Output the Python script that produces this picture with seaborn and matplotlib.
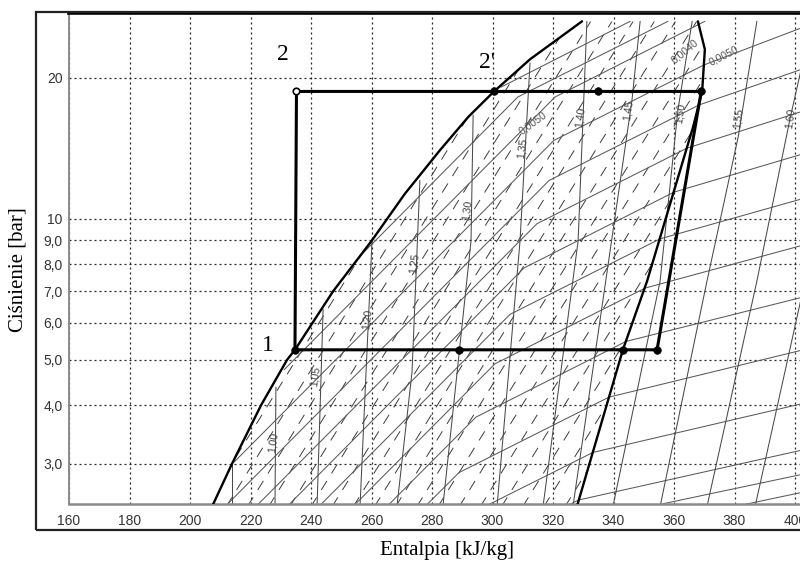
import numpy as np
import matplotlib
matplotlib.use("Agg")
import matplotlib.pyplot as plt
from matplotlib.patches import Polygon, Rectangle
from matplotlib.ticker import NullLocator
from matplotlib import font_manager
import seaborn as sns

# ---- saturation curves (h in kJ/kg, p in bar) ----
liquid_h = [207.3, 213.9, 223.5, 232.1, 234.7, 247.3, 260.2, 271.0, 282.6, 292.0, 300.5, 312.4, 329.6]
liquid_p = [2.43, 3.0, 4.0, 5.0, 5.25, 7.0, 9.0, 11.3, 14.0, 16.5, 18.7, 21.9, 26.4]
vapour_h = [327.9, 343.1, 351.1, 366.3, 369.3, 370.2, 367.9]
vapour_p = [2.43, 5.25, 7.36, 15.7, 18.7, 23.0, 26.4]

# ---- refrigeration cycle ----
cycle_h = [234.7, 235.2, 369.0, 354.4, 234.7]
cycle_p = [5.25, 18.7, 18.7, 5.25, 5.25]
state_h = [234.7, 300.5, 334.9, 369.0, 289.0, 343.1, 354.4]
state_p = [5.25, 18.7, 18.7, 18.7, 5.25, 5.25, 5.25]
open_state_h = [235.2]
open_state_p = [18.7]
state_names = ["1", "2", "2'"]
state_name_h = [225.8, 230.7, 298.2]
state_name_p = [5.35, 22.4, 21.6]

# ---- isentropes, s in kJ/(kg K) ----
isentrope_h = [
    [213.9, 213.9],
    [228.4, 228.1],
    [244.0, 242.0],
    [260.2, 258.2, 256.2],
    [276.0, 273.4, 268.4],
    [293.6, 292.9, 283.6],
    [312.4, 309.1, 301.5],
    [331.2, 328.3, 316.7],
    [348.8, 346.1, 326.6],
    [366.0, 361.3, 355.4, 339.8],
    [387.4, 381.2, 370.9, 355.4],
    [405.6, 398.4, 387.4, 370.9],
    [423.1, 414.9, 403.3, 386.8],
]
isentrope_p = [
    [3.0, 2.43],
    [4.37, 2.43],
    [6.40, 2.43],
    [9.06, 4.71, 2.43],
    [12.07, 4.71, 2.43],
    [16.65, 8.97, 2.43],
    [21.5, 8.97, 2.43],
    [26.4, 8.97, 2.43],
    [26.4, 17.9, 2.43],
    [26.4, 17.07, 7.36, 2.43],
    [26.4, 14.94, 7.36, 2.43],
    [26.4, 16.41, 7.36, 2.43],
    [26.4, 16.41, 7.36, 2.43],
]
isentrope_labels = ["1,00", "1,05", "1,20", "1,25", "1,30", "1,35", "1,40", "1,45", "1,50", "1,55", "1,60"]
isentrope_label_h = [227.6, 241.5, 258.6, 274.2, 291.7, 309.8, 328.9, 344.8, 362.0, 381.2, 398.4]
isentrope_label_p = [3.33, 4.60, 6.10, 8.04, 10.4, 14.15, 16.5, 17.07, 16.8, 16.4, 16.4]

# ---- isochores, v in m3/kg ----
isochore_h = [
    [302.8, 345.5],
    [256.9, 308.4, 358.0],
    [231.1, 320.7, 370.2],
    [214.5, 320.3, 369.9, 401.7],
    [211.6, 318.7, 368.3, 401.7],
    [221.8, 314.7, 364.3, 401.7],
    [232.1, 310.4, 360.0, 401.7],
    [242.6, 305.8, 355.4, 401.7],
    [253.9, 300.8, 350.4, 401.7],
    [265.1, 294.5, 344.1, 401.7],
    [277.7, 288.9, 338.5, 401.7],
    [297.5, 333.2, 401.7],
    [324.0, 328.6, 401.7],
    [352.1, 401.7],
    [380.2, 401.7],
]
isochore_p = [
    [19.1, 26.4],
    [8.41, 18.2, 26.4],
    [4.76, 18.2, 26.4],
    [3.02, 14.7, 21.3, 25.5],
    [2.43, 12.07, 17.5, 20.8],
    [2.43, 9.76, 14.15, 16.9],
    [2.43, 7.85, 11.4, 13.7],
    [2.43, 6.25, 9.06, 11.0],
    [2.43, 4.90, 7.11, 8.75],
    [2.43, 3.77, 5.47, 6.78],
    [2.43, 2.87, 4.16, 5.23],
    [2.43, 3.17, 4.02],
    [2.43, 2.51, 3.20],
    [2.43, 2.84],
    [2.43, 2.60],
]
isochore_labels = ["0,0050", "0,0040", "0,0050"]
isochore_label_h = [313.4, 363.6, 376.4]
isochore_label_p = [16.0, 22.75, 22.3]
isochore_label_rot = [36, 40, 27]

# ---- dashed lines inside the wet-vapour region (bottom / top enthalpy) ----
wet_line_h_bottom = [198, 205, 212, 219, 226, 233, 240, 247, 254, 261, 268, 275, 282, 289, 296, 303, 310,
                     317, 324]
wet_line_h_top = [297.5, 304.5, 311.5, 318.5, 325.5, 332.5, 339.5, 346.5, 353.5, 360.5, 367.5, 374.5,
                  381.5, 388.5, 395.5, 402.5, 409.5, 416.5, 423.5]
wet_line_p = [2.43, 26.4]

# ---- axes ticks ----
h_ticks = [160, 180, 200, 220, 240, 260, 280, 300, 320, 340, 360, 380, 400]
p_ticks = [3, 4, 5, 6, 7, 8, 9, 10, 20]
p_tick_labels = ["3,0", "4,0", "5,0", "6,0", "7,0", "8,0", "9,0", "10", "20"]


def pick_font(candidates, default):
    installed = {f.name for f in font_manager.fontManager.ttflist}
    for name in candidates:
        if name in installed:
            return name
    return default


sns.set_theme(style="white")
sans = pick_font(["Liberation Sans Narrow", "Liberation Sans", "Arial"], "DejaVu Sans")
serif = pick_font(["Liberation Serif", "Times New Roman"], "DejaVu Serif")
plt.rcParams["font.family"] = [sans, "DejaVu Sans"]
narrow = sans == "Liberation Sans Narrow"
tick_size = 12 if narrow else 10
small_size = 9 if narrow else 7.6

W, H = 800, 564
fig = plt.figure(figsize=(W / 100, H / 100), dpi=100)
fig.patch.set_facecolor("white")
ax = fig.add_axes([69 / W, 60 / H, 731 / W, 491 / H])
ax.set_yscale("log")
ax.set_xlim(160, 401.65)
ax.set_ylim(2.46, 27.5)

# grid
ax.set_xticks(h_ticks)
ax.set_xticklabels([str(t) for t in h_ticks])
ax.set_yticks(p_ticks)
ax.set_yticklabels(p_tick_labels)
ax.yaxis.set_minor_locator(NullLocator())
ax.grid(True, which="major", color="#262626", lw=0.9, linestyle=(0, (1.6, 2.4)), zorder=0)
ax.set_axisbelow(True)
ax.tick_params(axis="both", length=0, labelsize=tick_size, labelcolor="#333333")
ax.tick_params(axis="x", pad=7)
ax.tick_params(axis="y", pad=4.5)

ax.spines["right"].set_visible(False)
ax.spines["left"].set_color("#8a8a8a")
ax.spines["left"].set_linewidth(1.4)
ax.spines["bottom"].set_color("#8a8a8a")
ax.spines["bottom"].set_linewidth(1.8)
ax.spines["top"].set_color("black")
ax.spines["top"].set_linewidth(2.6)

# dashed lines, clipped to the wet-vapour dome
dome = Polygon(np.column_stack([np.r_[liquid_h, vapour_h[::-1]], np.r_[liquid_p, vapour_p[::-1]]]),
               closed=True, facecolor="none", edgecolor="none", transform=ax.transData)
ax.add_patch(dome)
for hb, ht in zip(wet_line_h_bottom, wet_line_h_top):
    ln, = ax.plot([hb, ht], wet_line_p, color="#3c3c3c", lw=0.7, dashes=(11, 9), zorder=1)
    ln.set_clip_path(dome)

# isochores
for hs, ps in zip(isochore_h, isochore_p):
    ax.plot(hs, ps, color="#5a5a5a", lw=0.75, zorder=1)
for txt, h, p, r in zip(isochore_labels, isochore_label_h, isochore_label_p, isochore_label_rot):
    ax.text(h, p, txt, fontsize=small_size, color="#555555", rotation=r,
            ha="center", va="center", zorder=2)

# isentropes
for hs, ps in zip(isentrope_h, isentrope_p):
    ax.plot(hs, ps, color="#4a4a4a", lw=0.75, zorder=1)
for txt, h, p in zip(isentrope_labels, isentrope_label_h, isentrope_label_p):
    ax.text(h, p, txt, fontsize=small_size, color="#444444", rotation=82,
            ha="center", va="center", zorder=2)

# saturation curves
sns.lineplot(x=liquid_h, y=liquid_p, sort=False, estimator=None, color="black", lw=1.7, ax=ax, zorder=3)
sns.lineplot(x=vapour_h, y=vapour_p, sort=False, estimator=None, color="black", lw=1.7, ax=ax, zorder=3)

# cycle
sns.lineplot(x=cycle_h, y=cycle_p, sort=False, estimator=None, color="black", lw=2.2, ax=ax, zorder=4)
sns.scatterplot(x=state_h, y=state_p, color="black", s=30, edgecolor="black", linewidth=0.5, ax=ax, zorder=5)
sns.scatterplot(x=open_state_h, y=open_state_p, color="white", s=22, edgecolor="black", linewidth=1.2,
                ax=ax, zorder=5)
for txt, h, p in zip(state_names, state_name_h, state_name_p):
    ax.text(h, p, txt, fontsize=17, family=serif, color="black", ha="center", va="center", zorder=6)

ax.set_xlabel("")
ax.set_ylabel("")

# outer frame and axis titles
fig.add_artist(Rectangle((36 / W, 34 / H), 1.0, 518 / H, transform=fig.transFigure,
                         fill=False, lw=1.6, edgecolor="#222222"))
fig.text(447 / W, 1 - 551 / H, "Entalpia [kJ/kg]", family=serif, fontsize=15,
         ha="center", va="center", color="black")
fig.text(18 / W, 1 - 270 / H, "Ciśnienie [bar]", family=serif, fontsize=15,
         ha="center", va="center", rotation=90, color="black")

fig.savefig("out.png", dpi=100, facecolor="white")
